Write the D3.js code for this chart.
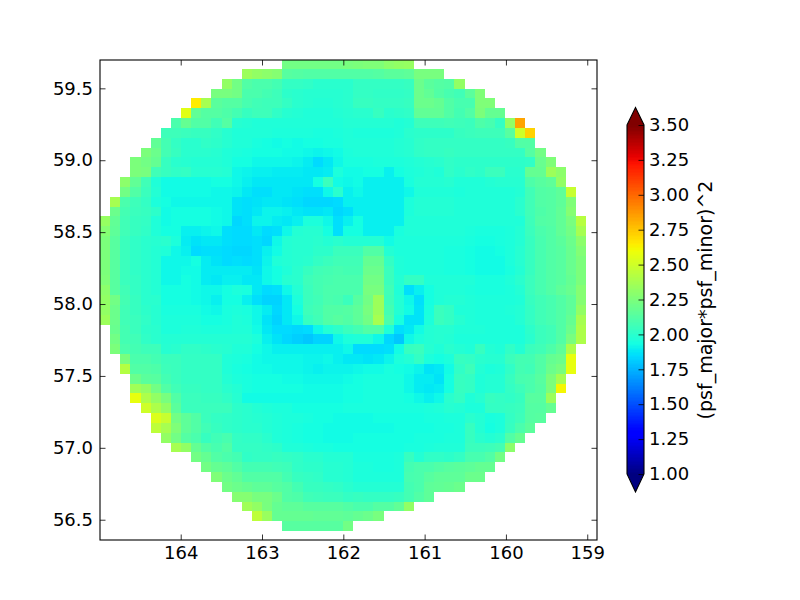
<!DOCTYPE html>
<html>
<head>
<meta charset="utf-8">
<script src="https://cdn.jsdelivr.net/npm/d3@7"></script>
<style>
  html, body { margin: 0; background: #fff; }
  text { font-family: "DejaVu Sans", sans-serif; font-size: 18px; fill: #000; }
</style>
</head>
<body>
<div id="chart"></div>
<script>
// first filled column of each grid row, top row first
const rowStarts = [18,14,12,11,9,8,7,6,5,4,3,3,2,2,1,1,0,0,0,0,0,0,0,0,0,0,0,1,1,1,2,2,3,3,3,4,5,5,6,7,9,10,11,12,13,14,15,18];

// (psf_major*psf_minor)^2 in hundredths
const rowValues = [
  [222,222,222,222,222,222,224,225,226,226,230,232,233],
  [235,232,230,228,214,213,212,212,212,212,212,212,212,213,215,215,216,224,224,224],
  [232,222,212,210,210,208,203,203,202,200,200,200,200,203,203,203,203,203,204,220,215,213,212,232],
  [224,224,222,210,210,208,206,201,200,199,199,199,199,200,203,203,202,202,202,203,220,217,212,209,207,215,226],
  [265,238,215,213,213,209,207,206,206,203,200,199,198,198,199,200,204,204,203,203,203,204,220,220,218,212,209,209,226,226],
  [256,217,213,213,211,208,204,206,206,202,199,198,197,197,197,198,199,200,200,204,200,201,202,217,217,217,212,208,212,225,218,218],
  [210,218,212,212,207,213,199,198,197,197,197,197,197,197,197,197,197,198,198,198,198,198,197,198,206,206,206,207,206,205,211,209,203,232,284],
  [206,206,205,204,204,202,199,197,197,197,197,196,196,196,196,195,195,196,197,196,196,196,196,197,200,201,201,201,201,204,205,206,206,206,214,250,272],
  [217,208,203,200,200,202,201,199,197,197,195,194,193,194,193,194,194,195,195,197,197,197,197,197,198,199,202,203,203,203,203,203,203,203,203,204,212,212],
  [225,220,208,204,200,200,200,199,197,196,195,194,194,194,193,193,192,191,192,193,196,197,197,197,197,198,199,202,203,203,204,203,203,203,203,203,203,203,213,222],
  [225,222,218,204,200,199,198,198,198,197,194,194,192,192,192,192,191,189,185,188,192,195,195,195,196,196,196,197,198,199,200,202,201,201,201,201,201,201,201,202,219,226],
  [225,224,207,204,202,203,199,199,199,198,192,191,190,190,189,189,189,188,188,189,196,193,193,194,194,190,194,196,197,198,197,202,200,202,201,205,205,200,200,218,218,235,230],
  [230,217,207,197,193,193,193,193,193,194,194,192,190,188,188,188,188,188,188,194,205,193,192,193,190,190,190,190,195,198,198,198,199,197,197,197,198,199,199,199,211,214,216,232],
  [222,212,205,198,193,193,193,193,193,192,192,191,188,186,186,188,188,187,186,186,192,200,190,192,190,190,190,190,192,197,197,197,197,196,197,197,197,197,197,198,207,212,213,216,248],
  [238,210,206,203,196,194,192,192,192,192,192,192,187,186,187,188,188,187,186,184,184,184,185,190,190,190,190,190,190,196,198,198,198,198,197,197,197,197,197,197,200,207,212,213,216,226],
  [220,208,205,204,201,193,194,194,194,194,193,192,187,186,188,191,191,190,188,187,187,188,184,186,190,190,190,190,190,196,198,198,198,198,197,197,197,197,197,197,200,207,211,213,217,228],
  [233,217,207,204,203,197,193,194,194,194,194,193,192,184,186,191,191,189,188,190,196,196,192,186,190,194,190,190,190,190,197,197,197,197,197,197,197,197,197,197,197,197,206,212,213,217,224,243],
  [228,216,207,204,202,197,194,194,190,190,191,192,186,185,185,188,185,186,192,198,199,199,194,186,194,194,190,190,190,195,197,197,197,197,197,197,196,195,195,195,196,198,205,210,212,217,222,238],
  [225,214,205,202,200,199,200,196,189,187,188,188,186,185,185,186,184,192,198,199,199,200,198,200,198,198,198,198,193,196,196,196,196,196,196,196,195,194,194,195,196,198,204,209,212,215,220,230],
  [225,214,205,202,200,198,197,192,190,185,186,186,185,184,184,186,190,193,198,199,199,201,201,205,205,205,212,212,198,196,196,196,196,196,195,195,194,193,193,194,196,199,204,209,212,214,219,227],
  [225,214,205,202,200,198,192,192,192,194,189,187,185,186,185,186,191,197,198,199,200,203,205,207,207,207,218,218,203,197,196,196,196,196,195,195,194,193,193,193,196,199,204,209,212,214,219,225],
  [225,214,205,202,200,198,192,192,193,193,189,189,189,189,189,187,192,194,197,200,204,207,208,209,208,208,220,220,205,197,196,196,196,196,195,195,194,193,193,193,195,198,204,209,212,214,219,225],
  [226,214,205,203,200,198,192,192,194,193,189,188,190,190,188,188,192,194,199,200,206,208,209,210,210,210,222,222,205,198,203,203,197,197,197,197,197,195,195,195,197,200,205,209,212,214,218,225],
  [230,214,207,203,200,198,194,194,194,193,192,192,194,196,195,188,185,186,192,198,205,208,210,210,210,210,224,224,207,197,186,190,194,197,197,197,196,195,195,195,196,198,205,209,212,216,219,228],
  [232,222,208,204,200,200,194,194,194,193,192,190,194,194,190,186,183,183,188,196,205,207,210,209,205,214,222,235,206,198,192,186,194,197,198,198,197,196,196,196,196,197,204,207,209,212,216,228],
  [232,220,207,204,201,199,195,195,195,195,193,192,195,196,195,192,189,184,188,194,206,208,212,212,213,216,224,235,208,198,193,187,195,205,203,197,197,196,196,196,197,198,203,207,209,212,216,232],
  [235,220,207,205,202,199,196,196,196,196,194,194,195,197,196,192,187,183,188,192,204,207,212,214,212,216,222,238,210,195,187,187,196,205,203,199,197,196,196,196,196,198,203,207,209,212,218,238],
  [219,208,205,201,200,196,196,197,197,196,196,196,197,197,193,188,185,185,184,185,192,198,201,205,208,212,212,197,186,188,193,198,199,199,197,197,197,196,196,196,196,201,205,207,212,220,240],
  [222,208,207,202,200,198,198,198,198,198,198,198,198,198,196,190,187,184,182,180,183,183,192,196,197,197,192,184,180,192,196,198,199,198,196,196,196,196,196,196,196,200,205,207,212,224,240],
  [225,210,208,206,206,199,200,202,202,201,200,199,197,197,194,192,190,190,190,190,190,190,190,192,185,185,185,186,193,204,205,199,197,200,198,197,204,198,197,202,198,205,207,211,216,240],
  [224,210,210,208,205,205,203,203,203,203,197,196,195,193,192,192,192,192,191,191,192,190,188,188,187,188,191,196,198,203,196,194,196,204,203,200,199,199,205,208,208,212,218,220,258],
  [242,212,212,211,206,205,203,203,203,203,197,195,194,193,193,192,192,192,191,190,191,191,191,192,193,193,195,194,193,191,187,188,193,202,206,198,196,197,202,208,207,212,220,224,258],
  [220,215,214,208,205,203,203,203,203,198,196,195,194,194,194,193,193,192,192,192,192,193,194,195,195,195,195,192,189,189,187,194,204,203,197,198,198,204,209,210,214,225,238],
  [236,232,222,212,207,204,204,203,203,200,198,195,194,194,194,194,194,193,193,193,193,194,194,195,195,195,195,192,189,188,189,194,204,203,197,198,198,203,206,210,213,225,262],
  [258,240,232,224,212,205,205,204,204,202,199,193,193,193,193,193,193,193,193,193,193,194,194,195,195,195,195,194,192,190,192,200,203,197,199,204,203,202,204,214,214,235],
  [250,240,232,215,205,205,205,205,205,201,200,198,197,196,196,194,194,194,194,194,195,195,195,195,195,195,195,195,196,197,199,198,196,196,203,203,204,205,213,213,218],
  [254,248,222,216,212,205,203,202,201,200,199,198,197,196,196,195,194,194,193,193,193,193,194,194,194,194,194,195,195,196,196,200,198,195,196,203,206,213,214],
  [245,238,226,216,212,207,204,202,201,200,200,198,197,196,195,194,194,193,193,193,193,193,193,193,194,194,194,194,195,195,196,204,198,194,196,204,210,215],
  [232,222,213,210,204,207,209,203,202,202,200,197,196,195,194,194,193,193,193,194,194,194,194,194,194,195,195,195,196,196,204,200,198,200,212,218],
  [238,232,218,212,209,212,203,203,203,202,201,197,197,196,195,195,194,194,194,194,194,194,194,195,195,196,197,197,197,205,205,206,208,230],
  [222,218,212,210,208,202,203,203,204,203,202,200,200,198,198,198,195,195,195,195,196,204,198,202,202,201,203,209,209,212,222],
  [222,218,216,212,208,208,208,207,206,202,201,201,199,199,198,196,196,195,195,196,208,210,210,212,214,215,216,218,218],
  [226,220,217,212,212,212,212,208,204,203,202,199,199,198,196,196,196,196,196,209,210,214,216,216,216,220,220],
  [222,220,218,216,216,214,212,208,204,204,203,202,200,198,198,198,198,198,208,210,216,217,218,220],
  [228,228,224,224,220,212,211,207,206,205,205,203,204,203,203,203,204,208,212,216],
  [236,232,224,218,216,216,214,214,214,214,212,210,210,213,213,217,232],
  [245,234,218,218,218,218,217,217,217,216,218,220,224],
  [214,214,214,214,214,214,222]
];

const lonTicks = [164, 163, 162, 161, 160, 159];
const latTicks = [59.5, 59.0, 58.5, 58.0, 57.5, 57.0, 56.5];
const cbarTicks = [1.00, 1.25, 1.50, 1.75, 2.00, 2.25, 2.50, 2.75, 3.00, 3.25, 3.50];

const width = 800, height = 600;
const lonStep = 0.12454, latStep = 0.06836;
const lonFirst = 164.9926, latFirst = 59.7028;

const svg = d3.select('#chart').append('svg')
  .attr('width', width)
  .attr('height', height)
  .style('display', 'block');

const x = d3.scaleLinear().domain([164.9926, 158.88]).range([100, 597]);
const y = d3.scaleLinear().domain([59.697, 56.359]).range([60, 540]);

// matplotlib jet, control points per channel
const red = d3.scaleLinear().domain([0, 0.35, 0.66, 0.89, 1]).range([0, 0, 1, 1, 0.5]);
const green = d3.scaleLinear().domain([0, 0.125, 0.375, 0.64, 0.91, 1]).range([0, 0, 1, 1, 0, 0]);
const blue = d3.scaleLinear().domain([0, 0.11, 0.34, 0.65, 1]).range([0.5, 1, 1, 0, 0]);
const norm = d3.scaleLinear().domain([1, 3.5]).range([0, 1]).clamp(true);
const jet = v => {
  const t = norm(v);
  return d3.rgb(red(t) * 255, green(t) * 255, blue(t) * 255).formatHex();
};

svg.append('clipPath').attr('id', 'plot-clip')
  .append('rect').attr('x', 100).attr('y', 60).attr('width', 497).attr('height', 480);

// Heat map cells
const cells = rowValues.flatMap((row, j) =>
  row.map((v, k) => ({ col: rowStarts[j] + k, row: j, value: v / 100 })));

svg.append('g')
  .attr('clip-path', 'url(#plot-clip)')
  .selectAll('rect')
  .data(cells)
  .enter().append('rect')
  .attr('x', d => x(lonFirst - d.col * lonStep))
  .attr('y', d => y(latFirst - d.row * latStep))
  .attr('width', d => x(lonFirst - (d.col + 1) * lonStep) - x(lonFirst - d.col * lonStep))
  .attr('height', d => y(latFirst - (d.row + 1) * latStep) - y(latFirst - d.row * latStep))
  .attr('shape-rendering', 'crispEdges')
  .style('fill', d => jet(d.value));

// Axes, ticks point inwards on all four sides
function styleAxis(g) {
  g.selectAll('.domain').remove();
  g.selectAll('line').style('stroke', '#000').style('stroke-width', 0.8);
  g.selectAll('text').style('font-size', '18px').style('font-family', '"DejaVu Sans", sans-serif');
}

svg.append('g').attr('transform', 'translate(0,540)')
  .call(d3.axisBottom(x).tickValues(lonTicks).tickSize(-5.5).tickPadding(6).tickFormat(d3.format('d')))
  .call(styleAxis);
svg.append('g').attr('transform', 'translate(0,60)')
  .call(d3.axisTop(x).tickValues(lonTicks).tickSize(-5.5).tickFormat(''))
  .call(styleAxis);
svg.append('g').attr('transform', 'translate(100,0)')
  .call(d3.axisLeft(y).tickValues(latTicks).tickSize(-5.5).tickPadding(7).tickFormat(d3.format('.1f')))
  .call(styleAxis);
svg.append('g').attr('transform', 'translate(597,0)')
  .call(d3.axisRight(y).tickValues(latTicks).tickSize(-5.5).tickFormat(''))
  .call(styleAxis);

svg.append('rect')
  .attr('x', 100).attr('y', 60).attr('width', 497).attr('height', 480)
  .style('fill', 'none').style('stroke', '#000').style('stroke-width', 1.1);

// Colour bar with extension arrows
const cbY = d3.scaleLinear().domain([1, 3.5]).range([474, 125]);
const cbLeft = 627, cbRight = 644, cbMid = (cbLeft + cbRight) / 2;

const cbar = svg.append('g');

cbar.selectAll('rect')
  .data(d3.range(256))
  .enter().append('rect')
  .attr('x', cbLeft)
  .attr('y', d => cbY(1 + 2.5 * (d + 1) / 256))
  .attr('width', cbRight - cbLeft)
  .attr('height', 349 / 256 + 0.5)
  .attr('shape-rendering', 'crispEdges')
  .style('fill', d => jet(1 + 2.5 * (d + 0.5) / 256));

cbar.append('path')
  .attr('d', `M${cbLeft},${cbY(3.5)}L${cbMid},107.5L${cbRight},${cbY(3.5)}Z`)
  .style('fill', jet(3.5));
cbar.append('path')
  .attr('d', `M${cbLeft},${cbY(1)}L${cbMid},492L${cbRight},${cbY(1)}Z`)
  .style('fill', jet(1));
cbar.append('path')
  .attr('d', `M${cbLeft},${cbY(3.5)}L${cbMid},107.5L${cbRight},${cbY(3.5)}L${cbRight},${cbY(1)}L${cbMid},492L${cbLeft},${cbY(1)}Z`)
  .style('fill', 'none').style('stroke', '#000').style('stroke-width', 1.1);

svg.append('g').attr('transform', `translate(${cbRight},0)`)
  .call(d3.axisRight(cbY).tickValues(cbarTicks).tickSize(-5.5).tickPadding(5).tickFormat(d3.format('.2f')))
  .call(styleAxis);

svg.append('text')
  .attr('transform', 'translate(705,300) rotate(-90)')
  .attr('text-anchor', 'middle')
  .attr('dy', '0.35em')
  .style('font-size', '19px')
  .text('(psf_major*psf_minor)^2');
</script>
</body>
</html>
